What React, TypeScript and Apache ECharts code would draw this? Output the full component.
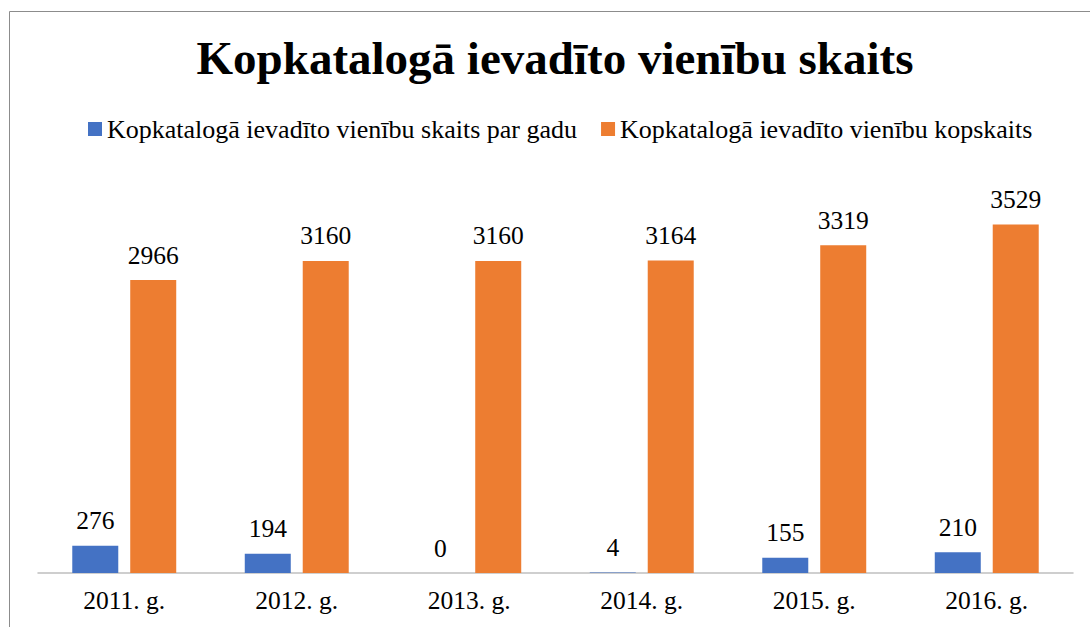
import React, { useEffect, useRef } from "react";
import * as echarts from "echarts";

const categories = ["2011. g.", "2012. g.", "2013. g.", "2014. g.", "2015. g.", "2016. g."];
const perYear = [276, 194, 0, 4, 155, 210];
const total = [2966, 3160, 3160, 3164, 3319, 3529];
const seriesNames = [
  "Kopkatalogā ievadīto vienību skaits par gadu",
  "Kopkatalogā ievadīto vienību kopskaits",
];
const titleText = "Kopkatalogā ievadīto vienību skaits";

export default function App() {
  const ref = useRef<HTMLDivElement>(null);
  useEffect(() => {
    if (!ref.current) return;
    const chart = echarts.init(ref.current, null, { renderer: "svg" });
    const font = "Liberation Serif";
    const labelStyle = {
      show: true,
      position: "top",
      distance: 12,
      fontFamily: font,
      fontSize: 25.5,
      color: "#000",
    };
    chart.setOption({
      animation: false,
      backgroundColor: "#ffffff",
      textStyle: { fontFamily: font },
      legend: {
        top: 116,
        left: 88,
        padding: 0,
        itemWidth: 14,
        itemHeight: 14,
        itemGap: 24,
        icon: "rect",
        textStyle: { fontFamily: font, fontSize: 26, color: "#000" },
        data: seriesNames,
      },
      graphic: [
        {
          type: "rect",
          shape: { x: 9.5, y: 11.5, width: 1200, height: 800 },
          style: { fill: "none", stroke: "#8c8c8c", lineWidth: 1 },
          silent: true,
        },
        {
          type: "text",
          x: 555,
          y: 58,
          silent: true,
          style: {
            text: titleText,
            fontFamily: font,
            fontSize: 47,
            fontWeight: "bold",
            fill: "#000",
            align: "center",
            verticalAlign: "middle",
          },
        },
      ],
      grid: { left: 38, right: 17, top: 178, bottom: 54, containLabel: false },
      xAxis: {
        type: "category",
        data: categories,
        axisLine: { lineStyle: { color: "#BFBFBF", width: 1.5 } },
        axisTick: { show: false },
        axisLabel: { fontFamily: font, fontSize: 25.5, color: "#000", margin: 14 },
      },
      yAxis: {
        type: "value",
        min: 0,
        max: 4000,
        show: false,
        splitLine: { show: false },
      },
      series: [
        {
          name: seriesNames[0],
          type: "bar",
          data: perYear,
          barWidth: 46,
          barGap: "26%",
          itemStyle: { color: "#4472C4" },
          label: labelStyle,
        },
        {
          name: seriesNames[1],
          type: "bar",
          data: total,
          barWidth: 46,
          barGap: "26%",
          itemStyle: { color: "#ED7D31" },
          label: labelStyle,
        },
      ],
    });
    return () => chart.dispose();
  }, []);
  return (
    <div
      ref={ref}
      style={{ position: "absolute", left: 0, top: 0, width: 1090, height: 627 }}
    />
  );
}
